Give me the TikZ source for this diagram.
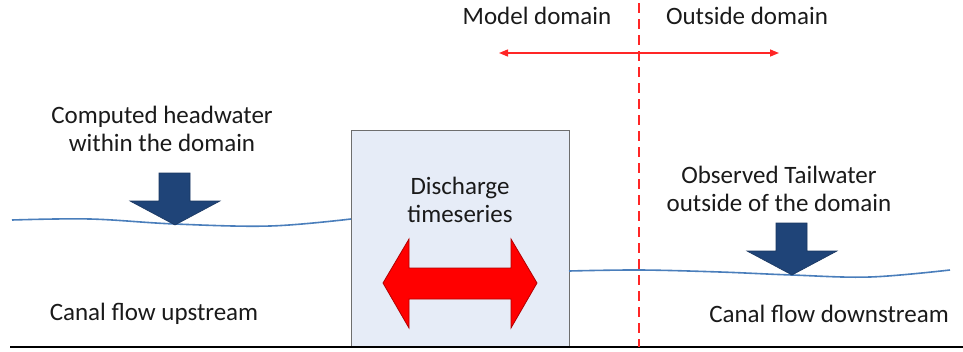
\documentclass[tikz,border=0pt]{standalone}
\usepackage{fontspec}
\setmainfont{Carlito}
\usetikzlibrary{arrows.meta}
\definecolor{boxfill}{HTML}{E6ECF7}
\definecolor{boxline}{HTML}{6E6E6E}
\definecolor{darkblue}{HTML}{1F4478}
\definecolor{wave}{HTML}{4A7EBB}
\definecolor{txt}{HTML}{1A1A1A}
\begin{document}
\begin{tikzpicture}[x=1pt,y=-1pt,
  lbl/.style={font=\fontsize{25}{28.5}\selectfont, text=txt, align=center, inner sep=0pt},
  waveline/.style={wave, line width=1.6pt},
  downarrow/.style={fill=darkblue, draw=darkblue!80!black, line width=0.6pt},
  dblarrow/.style={fill=red, draw=red!70!black, line width=0.8pt},
  domline/.style={red!85!white, line width=1.4pt, dash pattern=on 10pt off 6pt},
  domarrow/.style={red!85!white, line width=1.4pt, {Triangle[length=9pt,width=7pt]}-{Triangle[length=9pt,width=7pt]}}
]
\useasboundingbox (0,0) rectangle (963,351);
% ground line
\coordinate (g1) at (10,347);
\coordinate (g2) at (963,347);
% discharge box
\node[draw=boxline, fill=boxfill, line width=1.2pt, minimum width=218pt, minimum height=217pt, inner sep=0pt, anchor=north west] (box) at (351,130) {};
\draw[black, line width=1.6pt] (g1) -- (g2);
% waves
\draw[waveline] plot[smooth, tension=0.6] coordinates {(12,220) (90,219) (175,224) (270,226) (351,219)};
\draw[waveline] plot[smooth, tension=0.6] coordinates {(569,271) (640,270) (720,272) (792,275) (870,277) (950,270)};
% dashed domain line
\coordinate (d1) at (639,3);
\coordinate (d2) at (639,347);
\draw[domline] (d1) -- (d2);
% domain arrow
\coordinate (a1) at (499,53);
\coordinate (a2) at (779,53);
\draw[domarrow] (a1) -- (a2);
% red double arrow
\draw[dblarrow] (383,283) -- (409,239) -- (409,268) -- (511,268) -- (511,239) -- (537,283) -- (511,328) -- (511,299) -- (409,299) -- (409,328) -- cycle;
% down arrows
\draw[downarrow] (159,173) -- (190,173) -- (190,201) -- (220,201) -- (175,225) -- (130,201) -- (159,201) -- cycle;
\draw[downarrow] (776,223) -- (807,223) -- (807,251) -- (837,251) -- (792,275) -- (747,251) -- (776,251) -- cycle;
% labels
\node[lbl] (model) at (537,16) {Model domain};
\node[lbl] (outside) at (747,16) {Outside domain};
\node[lbl] (head) at (162,129) {Computed headwater\\within the domain};
\node[lbl] (disch) at (460,200) {Discharge\\timeseries};
\node[lbl] (tail) at (779,189) {Observed Tailwater\\outside of the domain};
\node[lbl] (up) at (154,314) {Canal flow upstream};
\node[lbl] (down) at (829,314) {Canal flow downstream};
\end{tikzpicture}
\end{document}
